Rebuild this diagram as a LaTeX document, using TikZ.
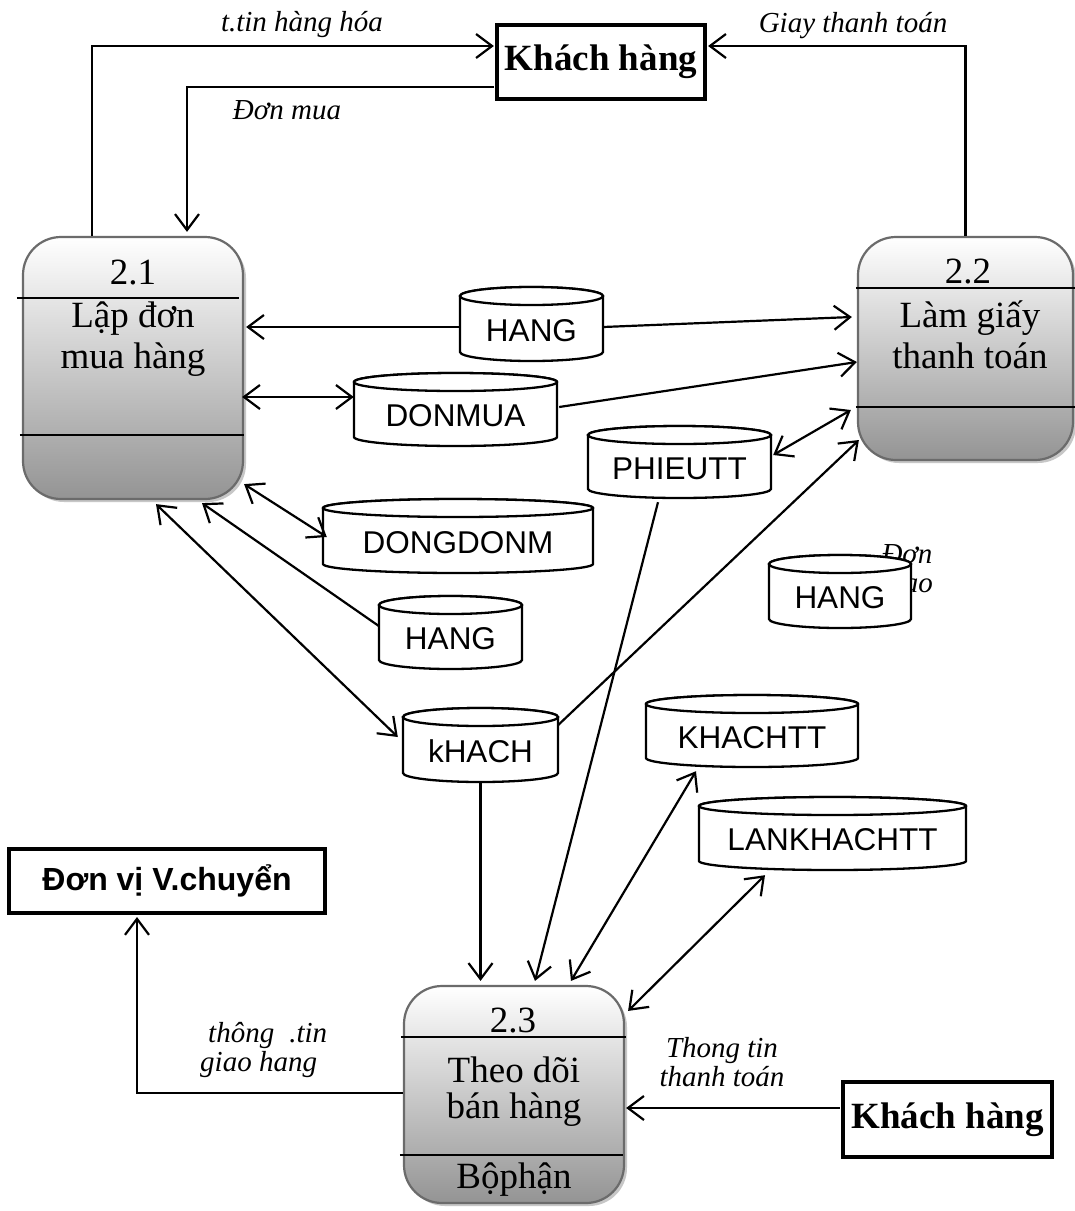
\documentclass[tikz,border=0pt]{standalone}
\usepackage{fontspec}
\setmainfont{Liberation Serif}
\setsansfont{Liberation Sans}
\usetikzlibrary{arrows.meta,calc,shadows}

% two centred / left-aligned lines whose baseline is the first line's
\newcommand\ctwo[2]{\vtop{\halign{\hfil##\hfil\cr#1\cr#2\cr}}}
\newcommand\ltwo[2]{\vtop{\halign{##\hfil\cr#1\cr#2\cr}}}

% data store: name, centre x, centre y, half width, half height, text
\newcommand\datastore[6]{%
  \filldraw[storeline] (#2-#4,#3+#5-9) -- (#2-#4,#3-#5+9)
    arc[start angle=180,end angle=360,x radius=#4,y radius=9]
    -- (#2+#4,#3+#5-9)
    arc[start angle=0,end angle=180,x radius=#4,y radius=9] -- cycle;
  \draw[storeline] (#2,#3-#5+9) ellipse[x radius=#4,y radius=9];
  \node[storetext, minimum width=2*#4, minimum height=2*#5] (#1) at (#2,#3) {#6};
}

\begin{document}
\begin{tikzpicture}[x=1pt,y=-1pt,
  proc/.style={rectangle, rounded corners=38pt, draw=black!58, line width=2.2pt,
    top color=white, bottom color=black!42, inner sep=0pt,
    drop shadow={shadow xshift=3pt,shadow yshift=-3pt,fill=black!22,opacity=1}},
  divider/.style={line width=2.2pt, draw=black},
  ptext/.style={font=\fontsize{37}{41}\selectfont, inner sep=0pt},
  storeline/.style={line width=2.3pt, draw=black, fill=white},
  storetext/.style={font=\sffamily\fontsize{31.5}{31.5}\selectfont, inner sep=0pt,
    text height=34pt, text depth=0pt},
  entity/.style={draw=black, line width=3.2pt, fill=white, inner sep=0pt,
    font=\bfseries\fontsize{37}{40}\selectfont},
  flowlabel/.style={font=\itshape\fontsize{29}{29}\selectfont, inner sep=0pt},
  flow/.style={line width=2.2pt, -{Straight Barb[length=16pt,width=24pt]}},
  flowboth/.style={line width=2.2pt,
    {Straight Barb[length=16pt,width=24pt]}-{Straight Barb[length=16pt,width=24pt]}},
]
\useasboundingbox (0,0) rectangle (1075,1211);
\fill[white] (0,0) rectangle (1075,1211);

% ---- processes ----
\node[proc, minimum width=220, minimum height=262] (p21) at (133,368) {};
\draw[divider] ($(p21.north west)+(-5,62)$) -- ($(p21.north east)+(-5,62)$);
\draw[divider] ($(p21.north west)+(-2,199)$) -- ($(p21.north east)+(0,199)$);
\node[ptext, anchor=base] (p21num) at (133,284) {2.1};
\node[ptext, anchor=base] (p21name) at (133,327) {\ctwo{Lập đơn}{mua hàng}};

\node[proc, minimum width=215, minimum height=223] (p22) at (965.5,348.5) {};
\draw[divider] ($(p22.north west)+(-1,52)$) -- ($(p22.north east)+(2,52)$);
\draw[divider] ($(p22.north west)+(-1,171)$) -- ($(p22.north east)+(2,171)$);
\node[ptext, anchor=base] (p22num) at (968,283) {2.2};
\node[ptext, anchor=base] (p22name) at (970,327) {\ctwo{Làm giấy}{thanh toán}};

\node[proc, minimum width=220, minimum height=217] (p23) at (514,1094.5) {};
\draw[divider] ($(p23.north west)+(-2,52)$) -- ($(p23.north east)+(1,52)$);
\draw[divider] ($(p23.north west)+(-3,170)$) -- ($(p23.north east)+(-2,170)$);
\node[ptext, anchor=base] (p23num) at (513,1032) {2.3};
\node[ptext, anchor=base, font=\fontsize{37}{36}\selectfont] (p23name) at (514,1082) {\ctwo{Theo dõi}{bán hàng}};
\node[ptext, anchor=base] (p23unit) at (514,1188) {Bộphận};

% ---- external entities ----
\node[entity, minimum width=208, minimum height=74] (khTop) at (601,62) {Khách hàng};
\node[entity, minimum width=209, minimum height=75] (khBot) at (947.5,1119.5) {Khách hàng};
\node[entity, line width=4pt, minimum width=316, minimum height=64,
  font=\sffamily\bfseries\fontsize{32}{32}\selectfont] (vc) at (167,881) {Đơn vị V.chuyển};

% ---- data stores ----
\datastore{hangA}{531.5}{324}{71.5}{37}{HANG}
\datastore{donmua}{455.5}{409.5}{101.5}{36.5}{DONMUA}
\datastore{dongdonm}{458}{536}{135}{37}{DONGDONM}
\datastore{hangB}{450.5}{632.5}{71.5}{36.5}{HANG}
\datastore{khach}{480.5}{745}{77.5}{37}{kHACH}
\datastore{phieutt}{679.5}{462}{91.5}{36}{PHIEUTT}
\node[flowlabel, anchor=base] (giaoLbl) at (907,563) {\ctwo{Đơn}{giao}};
\datastore{hangC}{840}{591.5}{71}{36.5}{HANG}
\datastore{khachtt}{752}{731}{106}{36}{KHACHTT}
\datastore{lankhachtt}{832.5}{833.5}{133.5}{36.5}{LANKHACHTT}

% ---- flows ----
\draw[flow] ($(p21.north)+(-41,0)$) |- ($(khTop.west)+(-1.5,-16)$);
\draw[flow] ($(khTop.west)+(-1.5,25)$) -| ($(p21.north)+(54,-4)$);
\draw[flow] (p22.north) |- ($(khTop.east)+(1.5,-16)$);

\draw[flow] ($(hangA.west)+(0,3)$) -- ($(p21.east)+(2,-41)$);
\draw[flow] ($(hangA.east)+(0,3)$) -- ($(p22.west)+(-5,-31.5)$);
\draw[flowboth] ($(p21.east)+(-2,29)$) -- ($(donmua.west)+(0,-12.5)$);
\draw[flow] ($(donmua.east)+(2,-2.5)$) -- ($(p22.west)+(0,13.5)$);
\draw[flowboth] ($(phieutt.east)+(2,-7)$) -- ($(p22.west)+(-6,61.5)$);
\draw[flow] ($(khach.east)+(0,-20)$) -- ($(p22.west)+(2,91.5)$);

\draw[flowboth] ($(p21.south east)+(0,-16)$) -- ($(dongdonm.west)+(4,1)$);
\draw[flow] ($(hangB.west)+(0,-6.5)$) -- ($(p21.south)+(69,3)$);
\draw[flowboth] ($(p21.south)+(23,4)$) -- ($(khach.west)+(-5,-8)$);

\draw[flow] ($(phieutt.south)+(-21.5,4)$) -- ($(p23.north)+(21,-4)$);
\draw[flow] (khach.south) -- ($(p23.north)+(-33.5,-4)$);
\draw[flowboth] ($(khachtt.south)+(-56,4)$) -- ($(p23.north)+(57,-4)$);
\draw[flowboth] ($(lankhachtt.south)+(-67.5,5)$) -- ($(p23.north east)+(3,26)$);

\draw[flow] ($(p23.west)+(0,-1.5)$) -| ($(vc.south)+(-30,2)$);
\draw[flow] ($(khBot.west)+(-1.5,-11.5)$) -- ($(p23.east)+(1,13.5)$);

% ---- flow labels ----
\node[flowlabel, anchor=base] (lblTtin) at (302,31) {t.tin hàng hóa};
\node[flowlabel, anchor=base] (lblDon) at (287,119) {Đơn mua};
\node[flowlabel, anchor=base] (lblGiay) at (853,32) {Giay thanh toán};
\node[flowlabel, anchor=base west] (lblGiao) at (200,1042) {\ltwo{\hspace*{8pt}thông\hspace{15pt}.tin}{giao hang}};
\node[flowlabel, anchor=base] (lblTT) at (722,1057) {\ctwo{Thong tin}{thanh toán}};
\end{tikzpicture}
\end{document}
